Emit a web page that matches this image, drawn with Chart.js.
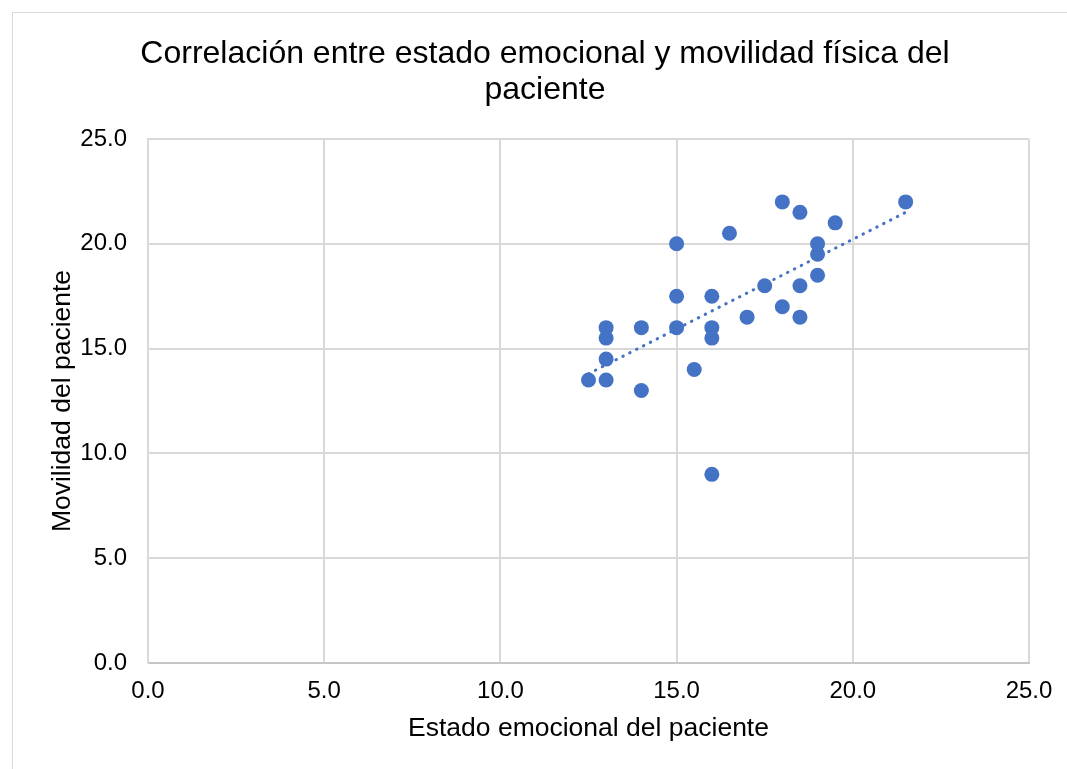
<!DOCTYPE html>
<html>
<head>
<meta charset="utf-8">
<script src="https://cdn.jsdelivr.net/npm/chart.js@4.4.1/dist/chart.umd.min.js"></script>
<style>
  html, body { margin: 0; padding: 0; background: #fff; overflow: hidden; }
  #wrap { position: relative; width: 1067px; height: 769px; overflow: hidden; }
  #frame { position: absolute; left: 12px; top: 12px; width: 1100px; height: 800px; border: 1px solid #d9d9d9; box-sizing: border-box; }
  #holder { position: absolute; left: 0; top: 0; width: 1090px; height: 769px; }
</style>
</head>
<body>
<div id="wrap">
  <div id="frame"></div>
  <div id="holder"><canvas id="c" width="1090" height="769"></canvas></div>
</div>
<script>
// Data
const estadoEmocional = [12.5, 13, 13, 13, 13, 14, 14, 15, 15, 15, 15.5, 16, 16, 16, 16, 16.5, 17, 17.5, 18, 18, 18.5, 18.5, 18.5, 19, 19, 19, 19.5, 21.5];
const movilidad       = [13.5, 13.5, 14.5, 15.5, 16, 16, 13, 16, 17.5, 20, 14, 17.5, 16, 15.5, 9, 20.5, 16.5, 18, 22, 17, 21.5, 18, 16.5, 20, 19.5, 18.5, 21, 22];
const trendX = [12.5, 21.5];
const trendY = [13.8, 21.5];
const titleLines = ['Correlación entre estado emocional y movilidad física del', 'paciente'];
const xTitle = 'Estado emocional del paciente';
const yTitle = 'Movilidad del paciente';

const points = estadoEmocional.map((x, i) => ({ x: x, y: movilidad[i] }));
const trend = trendX.map((x, i) => ({ x: x, y: trendY[i] }));

const FONT = "'Liberation Sans', Arial, sans-serif";
const BLUE = '#4472C4';
const GRID = '#d9d9d9';
const AXIS = '#c6c6c6';

new Chart(document.getElementById('c'), {
  type: 'scatter',
  data: {
    datasets: [
      {
        label: 'Datos',
        data: points,
        backgroundColor: BLUE,
        borderColor: BLUE,
        pointRadius: 7.5,
        pointHoverRadius: 7.5,
        borderWidth: 0
      },
      {
        type: 'line',
        label: 'Tendencia',
        data: trend,
        borderColor: BLUE,
        borderWidth: 3,
        borderDash: [0.5, 7.2],
        borderCapStyle: 'round',
        pointRadius: 0,
        fill: false,
        tension: 0
      }
    ]
  },
  options: {
    responsive: false,
    animation: false,
    events: [],
    layout: { padding: 0 },
    plugins: {
      legend: { display: false },
      tooltip: { enabled: false },
      title: {
        display: true,
        text: titleLines,
        color: '#000',
        font: { family: FONT, size: 32, weight: 'normal', lineHeight: 1.14 },
        padding: { top: 35.76, bottom: 30.28 }
      }
    },
    scales: {
      x: {
        type: 'linear',
        min: 0, max: 25,
        ticks: {
          stepSize: 5,
          color: '#000',
          padding: 14,
          font: { family: FONT, size: 24 },
          callback: v => v.toFixed(1),
          maxRotation: 0
        },
        grid: { color: GRID, lineWidth: 2, drawTicks: false },
        border: { color: AXIS, width: 2 },
        title: {
          display: true,
          text: xTitle,
          color: '#000',
          font: { family: FONT, size: 26.5, lineHeight: 1.2 },
          padding: { top: 0, bottom: 24 }
        },
        afterFit: s => { s.height = 106; }
      },
      y: {
        type: 'linear',
        min: 0, max: 25,
        ticks: {
          stepSize: 5,
          color: '#000',
          padding: 21,
          font: { family: FONT, size: 24 },
          callback: v => v.toFixed(1)
        },
        grid: { color: GRID, lineWidth: 2, drawTicks: false },
        border: { color: GRID, width: 2 },
        title: {
          display: true,
          text: yTitle,
          color: '#000',
          font: { family: FONT, size: 26.5, lineHeight: 1.2 },
          padding: { top: 47, bottom: 0 }
        },
        afterFit: s => { s.width = 148; }
      },
      yRight: {
        type: 'linear',
        position: 'right',
        display: true,
        min: 0, max: 25,
        ticks: { display: false },
        grid: { display: false, drawTicks: false },
        border: { display: false },
        afterFit: s => { s.width = 61; }
      }
    }
  }
});
</script>
</body>
</html>
